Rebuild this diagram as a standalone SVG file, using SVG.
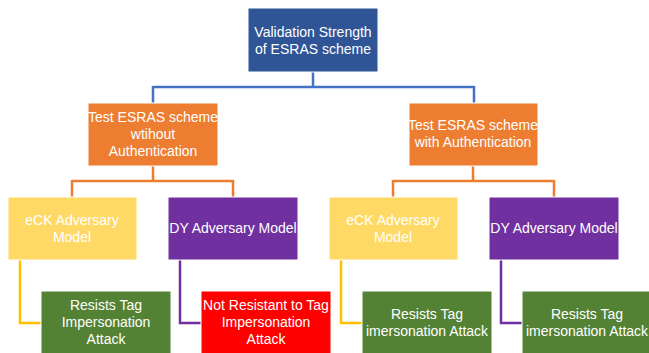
<svg xmlns="http://www.w3.org/2000/svg" width="649" height="353" viewBox="0 0 649 353">
<style>
text{font-family:"Liberation Sans",Arial,sans-serif;font-size:14px;fill:#ffffff;text-anchor:middle}
.c{fill:none;stroke-width:2.5}
.blue{stroke:#4472C4}.orange{stroke:#ED7D31}.yel{stroke:#FFC000}.pur{stroke:#7030A0}
rect{stroke:#ffffff;stroke-width:1}
</style>
<rect width="649" height="353" fill="#ffffff" stroke="none"/>
<g id="connectors">
<path class="c blue" d="M313,72V87M153,87H474M153,86V103M474,86V103"/>
<path class="c orange" d="M153,166V181M72,181H234M72,180V197M233,180V197"/>
<path class="c orange" d="M473,166V181M393,181H555M393,180V197M554,180V197"/>
<path class="c yel" d="M20,260V323H41"/>
<path class="c pur" d="M180,260V323H201"/>
<path class="c yel" d="M341,260V323H362"/>
<path class="c pur" d="M501,260V323H522"/>
</g>
<g id="root"><rect x="248" y="8" width="130" height="64" fill="#2F5597"/><text x="313" y="37">Validation Strength</text><text x="313" y="54">of ESRAS scheme</text></g>
<g id="noauth"><rect x="88" y="103" width="130" height="63" fill="#ED7D31"/><text x="153" y="122">Test ESRAS scheme</text><text x="153" y="139">wtihout</text><text x="153" y="156">Authentication</text></g>
<g id="auth"><rect x="409" y="103" width="129" height="63" fill="#ED7D31"/><text x="473" y="130">Test ESRAS scheme</text><text x="473" y="147">with Authentication</text></g>
<g id="eck1"><rect x="8" y="197" width="129" height="63" fill="#FFD966"/><text x="72" y="225">eCK Adversary</text><text x="72" y="242">Model</text></g>
<g id="dy1"><rect x="168" y="197" width="130" height="63" fill="#7030A0"/><text x="233" y="233">DY Adversary Model</text></g>
<g id="eck2"><rect x="329" y="197" width="129" height="63" fill="#FFD966"/><text x="393" y="225">eCK Adversary</text><text x="393" y="242">Model</text></g>
<g id="dy2"><rect x="489" y="197" width="130" height="63" fill="#7030A0"/><text x="554" y="233">DY Adversary Model</text></g>
<g id="res1"><rect x="41" y="291" width="130" height="63" fill="#548235"/><text x="106" y="310">Resists Tag</text><text x="106" y="327">Impersonation</text><text x="106" y="344">Attack</text></g>
<g id="notres"><rect x="201" y="291" width="130" height="63" fill="#FF0000"/><text x="266" y="310">Not Resistant to Tag</text><text x="266" y="327">Impersonation</text><text x="266" y="344">Attack</text></g>
<g id="res2"><rect x="362" y="291" width="130" height="63" fill="#548235"/><text x="427" y="319">Resists Tag</text><text x="427" y="336">imersonation Attack</text></g>
<g id="res3"><rect x="522" y="291" width="130" height="63" fill="#548235"/><text x="587" y="319">Resists Tag</text><text x="587" y="336">imersonation Attack</text></g>
</svg>
